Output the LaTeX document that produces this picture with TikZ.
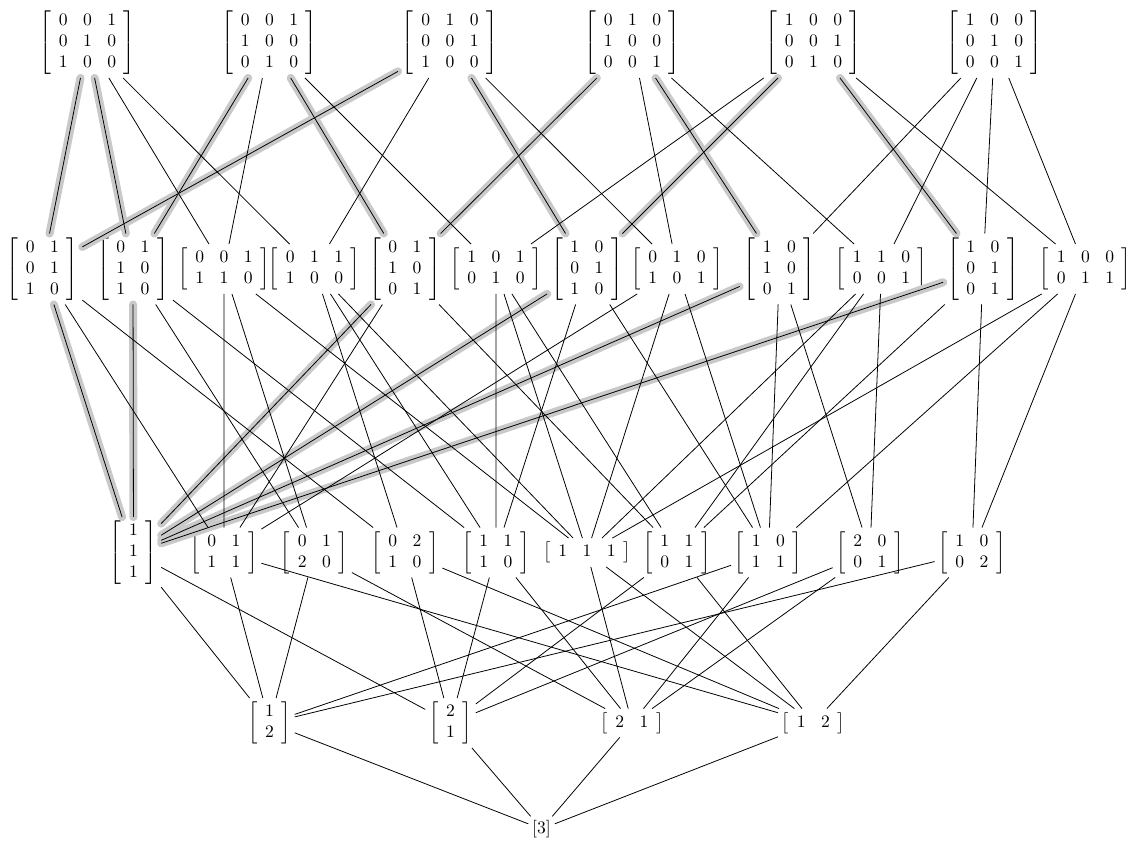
\documentclass[tikz,border=0pt]{standalone}
\usepackage{amsmath}
\usepackage{tikz}

% bracketed table with padding inside the brackets
\setlength{\arraycolsep}{4.4pt}
\newcommand{\gmat}[2]{\left[\begin{array}{#1}#2\end{array}\right]}

\begin{document}
\begin{tikzpicture}[
    mat/.style={inner sep=2pt},
    fline/.style={black,line width=0.45pt},
    hl/.style={line width=4.6pt,gray!42,line cap=round}
]
\useasboundingbox (0,0) rectangle (22.66,16.92);

% Level 3x3: permutation matrices
\node[mat] (P1) at (1.75,16.07)  {$\gmat{ccc}{0&0&1\\0&1&0\\1&0&0}$};
\node[mat] (P2) at (5.39,16.07)  {$\gmat{ccc}{0&0&1\\1&0&0\\0&1&0}$};
\node[mat] (P3) at (9.00,16.07)  {$\gmat{ccc}{0&1&0\\0&0&1\\1&0&0}$};
\node[mat] (P4) at (12.65,16.07) {$\gmat{ccc}{0&1&0\\1&0&0\\0&0&1}$};
\node[mat] (P5) at (16.27,16.07) {$\gmat{ccc}{1&0&0\\0&0&1\\0&1&0}$};
\node[mat] (P6) at (19.89,16.07) {$\gmat{ccc}{1&0&0\\0&1&0\\0&0&1}$};

% Level 3x2 / 2x3
\node[mat] (Q1)  at (0.85,11.54)  {$\gmat{cc}{0&1\\0&1\\1&0}$};
\node[mat] (Q2)  at (2.66,11.54)  {$\gmat{cc}{0&1\\1&0\\1&0}$};
\node[mat] (Q3)  at (4.48,11.54)  {$\gmat{ccc}{0&0&1\\1&1&0}$};
\node[mat] (Q4)  at (6.29,11.54)  {$\gmat{ccc}{0&1&1\\1&0&0}$};
\node[mat] (Q5)  at (8.10,11.54)  {$\gmat{cc}{0&1\\1&0\\0&1}$};
\node[mat] (Q6)  at (9.92,11.54)  {$\gmat{ccc}{1&0&1\\0&1&0}$};
\node[mat] (Q7)  at (11.74,11.54) {$\gmat{cc}{1&0\\0&1\\1&0}$};
\node[mat] (Q8)  at (13.54,11.54) {$\gmat{ccc}{0&1&0\\1&0&1}$};
\node[mat] (Q9)  at (15.59,11.54) {$\gmat{cc}{1&0\\1&0\\0&1}$};
\node[mat] (Q10) at (17.63,11.54) {$\gmat{ccc}{1&1&0\\0&0&1}$};
\node[mat] (Q11) at (19.66,11.54) {$\gmat{cc}{1&0\\0&1\\0&1}$};
\node[mat] (Q12) at (21.71,11.54) {$\gmat{ccc}{1&0&0\\0&1&1}$};

% Level 2x2 / 3x1 / 1x3
\node[mat] (R1)  at (2.67,5.87)  {$\gmat{c}{1\\1\\1}$};
\node[mat] (R2)  at (4.48,5.87)  {$\gmat{cc}{0&1\\1&1}$};
\node[mat] (R3)  at (6.29,5.87)  {$\gmat{cc}{0&1\\2&0}$};
\node[mat] (R4)  at (8.10,5.87)  {$\gmat{cc}{0&2\\1&0}$};
\node[mat] (R5)  at (9.92,5.87)  {$\gmat{cc}{1&1\\1&0}$};
\node[mat] (R6)  at (11.74,5.87) {$\gmat{ccc}{1&1&1}$};
\node[mat] (R7)  at (13.54,5.87) {$\gmat{cc}{1&1\\0&1}$};
\node[mat] (R8)  at (15.37,5.87) {$\gmat{cc}{1&0\\1&1}$};
\node[mat] (R9)  at (17.40,5.87) {$\gmat{cc}{2&0\\0&1}$};
\node[mat] (R10) at (19.44,5.87) {$\gmat{cc}{1&0\\0&2}$};

% Level 2x1 / 1x2
\node[mat] (S1) at (5.39,2.46)  {$\gmat{c}{1\\2}$};
\node[mat] (S2) at (9.01,2.46)  {$\gmat{c}{2\\1}$};
\node[mat] (S3) at (12.64,2.46) {$\gmat{cc}{2&1}$};
\node[mat] (S4) at (16.27,2.46) {$\gmat{cc}{1&2}$};

% Level 1x1
\node[mat] (T) at (10.83,0.34) {$[3]$};

% highlighted column merges (drawn first, under the edges)
\draw[hl] (P1) -- (Q1);  \draw[hl] (P1) -- (Q2);
\draw[hl] (P2) -- (Q2);  \draw[hl] (P2) -- (Q5);
\draw[hl] (P3) -- (Q1);  \draw[hl] (P3) -- (Q7);
\draw[hl] (P4) -- (Q5);  \draw[hl] (P4) -- (Q9);
\draw[hl] (P5) -- (Q7);  \draw[hl] (P5) -- (Q11);
\draw[hl] (Q1) -- (R1);  \draw[hl] (Q2) -- (R1);
\draw[hl] (Q5) -- (R1);  \draw[hl] (Q7) -- (R1);
\draw[hl] (Q9) -- (R1);  \draw[hl] (Q11) -- (R1);

% 3x3 -> next level
\draw[fline] (P1) -- (Q1)  (P1) -- (Q2)  (P1) -- (Q3)  (P1) -- (Q4);
\draw[fline] (P2) -- (Q2)  (P2) -- (Q5)  (P2) -- (Q3)  (P2) -- (Q6);
\draw[fline] (P3) -- (Q1)  (P3) -- (Q7)  (P3) -- (Q4)  (P3) -- (Q8);
\draw[fline] (P4) -- (Q5)  (P4) -- (Q9)  (P4) -- (Q8)  (P4) -- (Q10);
\draw[fline] (P5) -- (Q7)  (P5) -- (Q11) (P5) -- (Q6)  (P5) -- (Q12);
\draw[fline] (P6) -- (Q9)  (P6) -- (Q11) (P6) -- (Q10) (P6) -- (Q12);

% 3x2 / 2x3 -> next level
\draw[fline] (Q1)  -- (R1)  (Q1)  -- (R2)  (Q1)  -- (R4);
\draw[fline] (Q2)  -- (R1)  (Q2)  -- (R3)  (Q2)  -- (R5);
\draw[fline] (Q3)  -- (R2)  (Q3)  -- (R3)  (Q3)  -- (R6);
\draw[fline] (Q4)  -- (R4)  (Q4)  -- (R5)  (Q4)  -- (R6);
\draw[fline] (Q5)  -- (R1)  (Q5)  -- (R2)  (Q5)  -- (R7);
\draw[fline] (Q6)  -- (R5)  (Q6)  -- (R6)  (Q6)  -- (R7);
\draw[fline] (Q7)  -- (R1)  (Q7)  -- (R5)  (Q7)  -- (R8);
\draw[fline] (Q8)  -- (R2)  (Q8)  -- (R6)  (Q8)  -- (R8);
\draw[fline] (Q9)  -- (R1)  (Q9)  -- (R8)  (Q9)  -- (R9);
\draw[fline] (Q10) -- (R6)  (Q10) -- (R7)  (Q10) -- (R9);
\draw[fline] (Q11) -- (R1)  (Q11) -- (R7)  (Q11) -- (R10);
\draw[fline] (Q12) -- (R6)  (Q12) -- (R8)  (Q12) -- (R10);

% 2x2 -> next level
\draw[fline] (R1)  -- (S1)  (R1)  -- (S2);
\draw[fline] (R2)  -- (S1)  (R2)  -- (S4);
\draw[fline] (R3)  -- (S1)  (R3)  -- (S3);
\draw[fline] (R4)  -- (S2)  (R4)  -- (S4);
\draw[fline] (R5)  -- (S2)  (R5)  -- (S3);
\draw[fline] (R6)  -- (S3)  (R6)  -- (S4);
\draw[fline] (R7)  -- (S2)  (R7)  -- (S4);
\draw[fline] (R8)  -- (S1)  (R8)  -- (S3);
\draw[fline] (R9)  -- (S2)  (R9)  -- (S3);
\draw[fline] (R10) -- (S1)  (R10) -- (S4);

% down to [3]
\draw[fline] (S1) -- (T)  (S2) -- (T)  (S3) -- (T)  (S4) -- (T);

\end{tikzpicture}
\end{document}
